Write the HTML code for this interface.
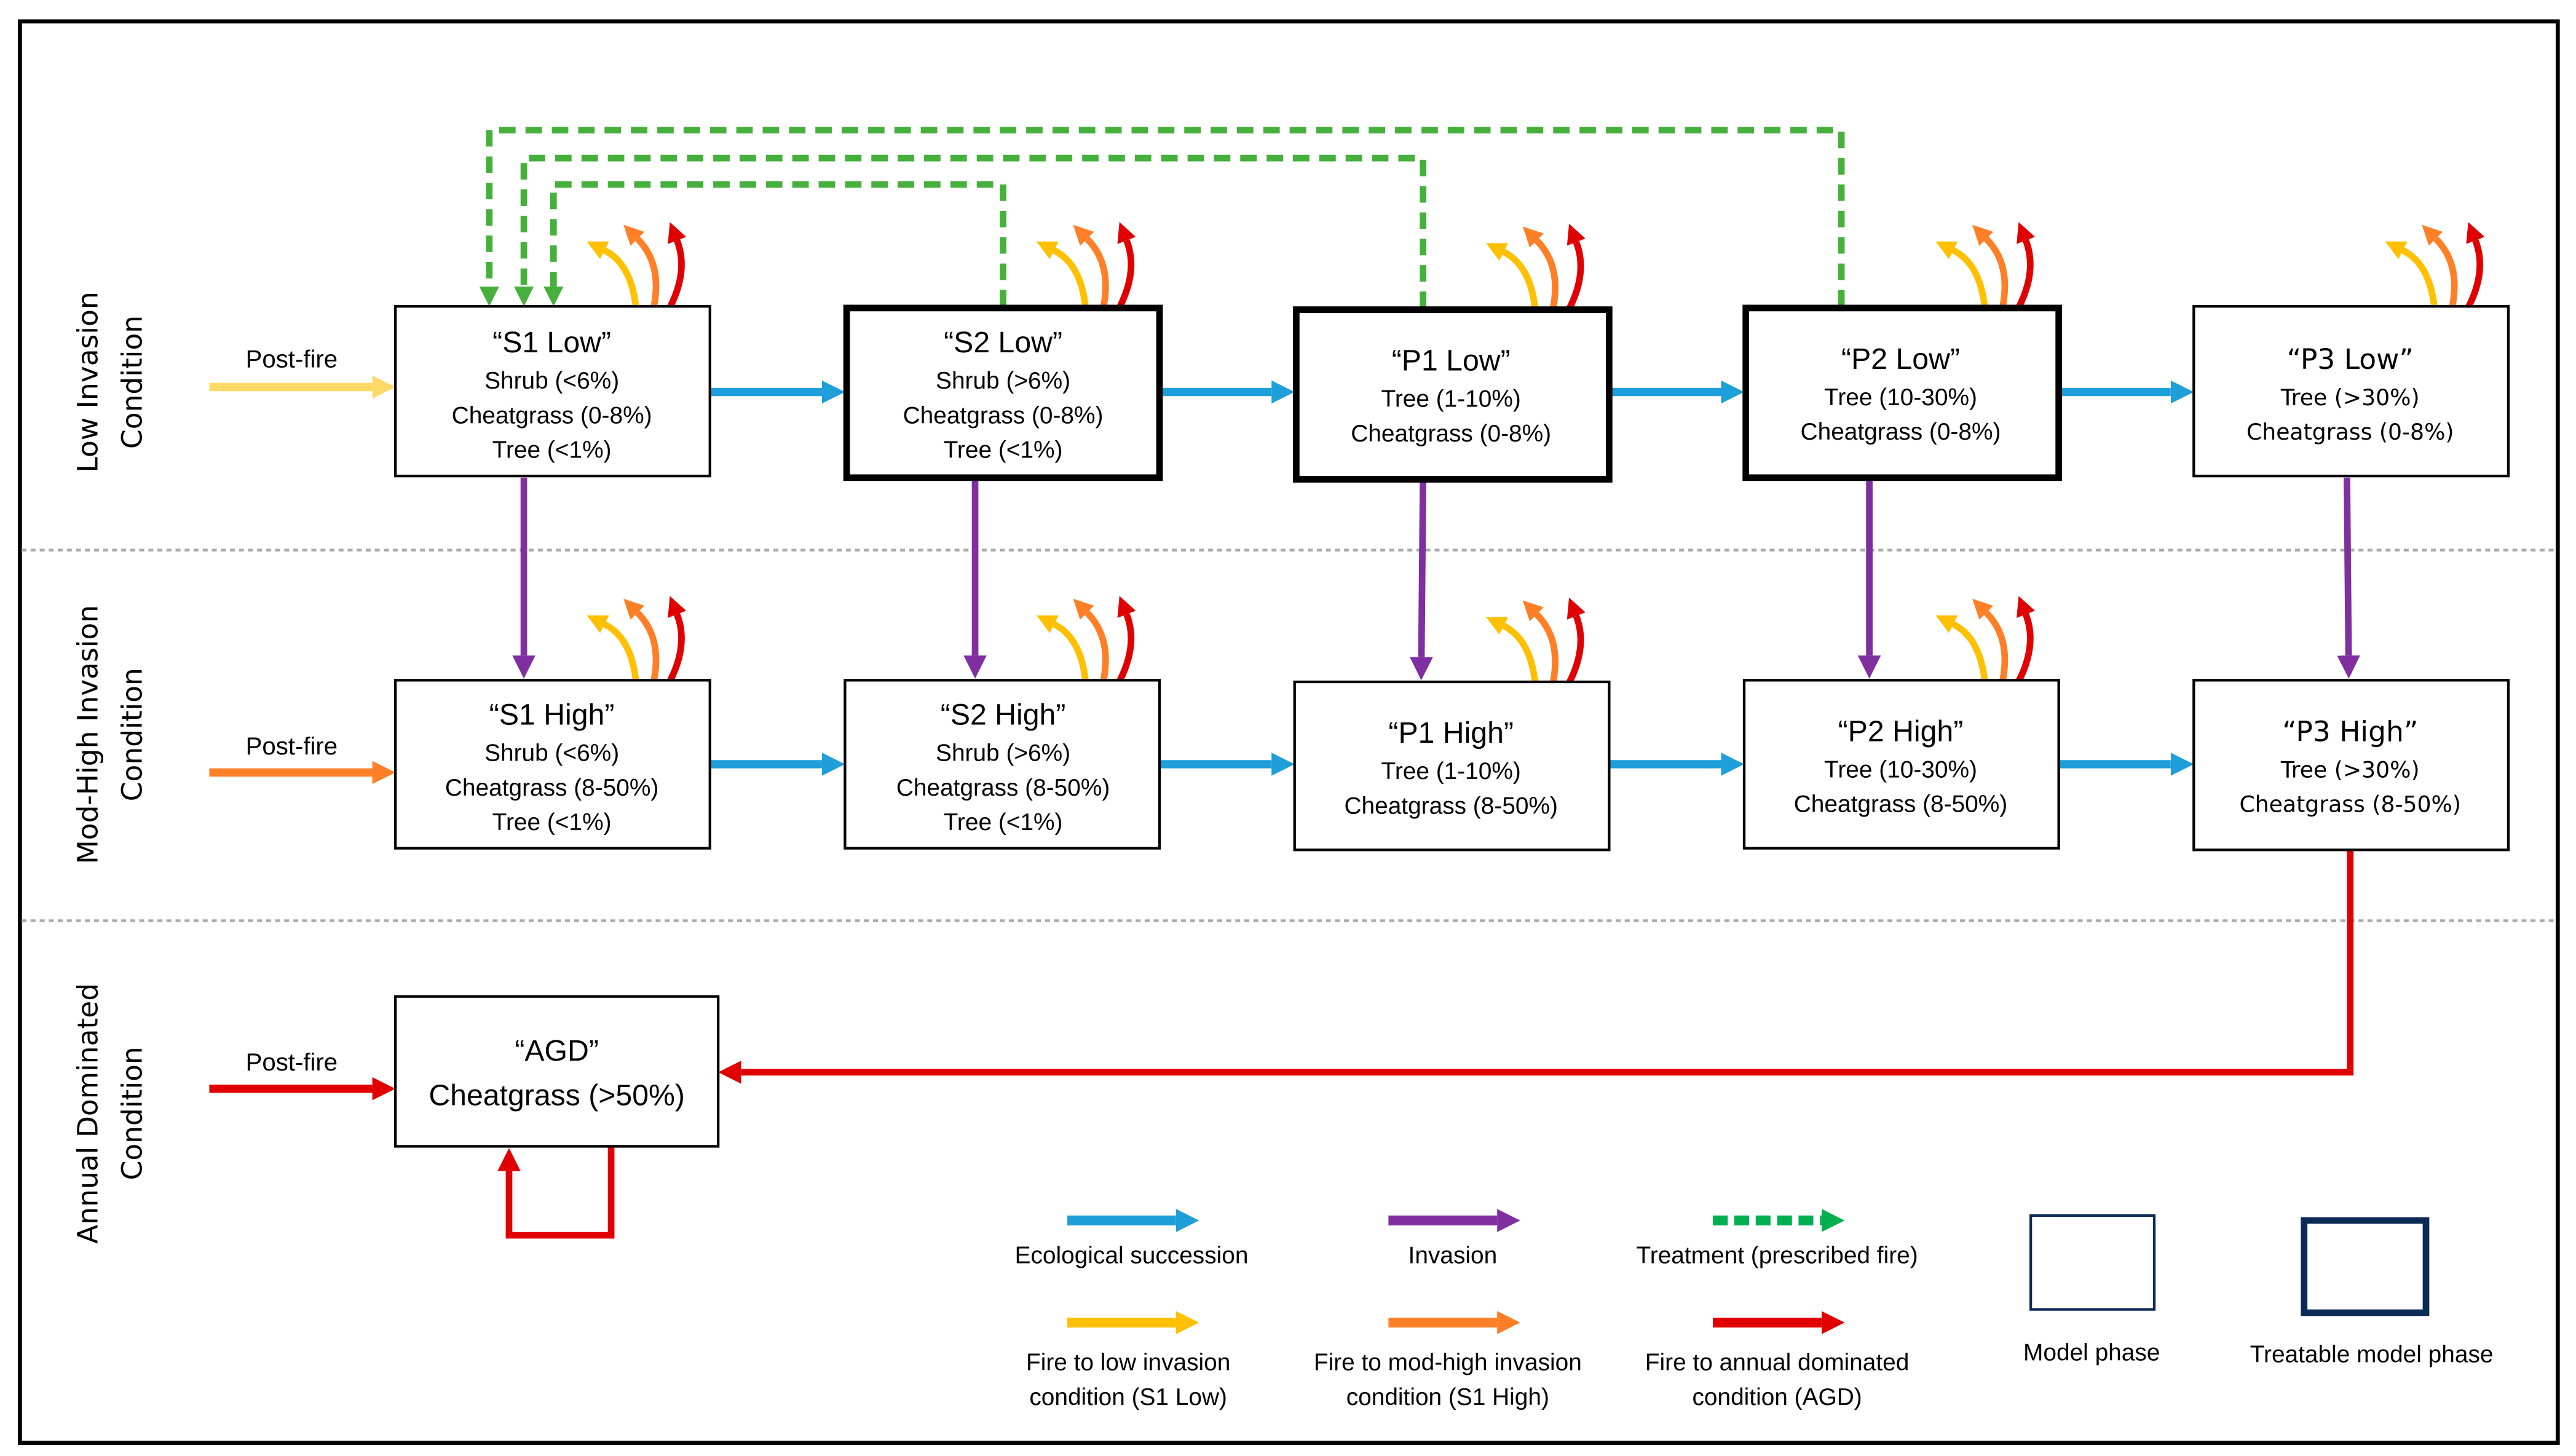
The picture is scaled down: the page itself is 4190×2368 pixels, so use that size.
<!DOCTYPE html>
<html><head><meta charset="utf-8"><style>
html,body{margin:0;padding:0;background:#fff;}
svg{display:block;}
.t{font-family:"Liberation Sans",sans-serif;fill:#000;text-anchor:middle;}
.ti{font-size:18px;}
.ln{font-size:14.5px;}
.rl{font-family:"DejaVu Sans","Liberation Sans",sans-serif;font-size:17px;text-anchor:middle;}
.wide{font-family:"DejaVu Sans","Liberation Sans",sans-serif;}
</style></head><body>
<svg width="4190" height="2368" viewBox="0 0 1564 884" xmlns="http://www.w3.org/2000/svg">
<defs>
<marker id="mb" markerUnits="userSpaceOnUse" markerWidth="14" markerHeight="14" viewBox="0 0 10 10" refX="0" refY="5" orient="auto"><path d="M0,0 L10,5 L0,10z" fill="#1F9FDA"/></marker>
<marker id="mp" markerUnits="userSpaceOnUse" markerWidth="14" markerHeight="14" viewBox="0 0 10 10" refX="0" refY="5" orient="auto"><path d="M0,0 L10,5 L0,10z" fill="#7F2FA0"/></marker>
<marker id="mg" markerUnits="userSpaceOnUse" markerWidth="12" markerHeight="12" viewBox="0 0 10 10" refX="0" refY="5" orient="auto"><path d="M0,0 L10,5 L0,10z" fill="#45B03C"/></marker>
<marker id="mg2" markerUnits="userSpaceOnUse" markerWidth="14" markerHeight="16" viewBox="0 0 10 10" refX="0" refY="5" orient="auto"><path d="M0,0 L10,5 L0,10z" fill="#00B050"/></marker>
<marker id="my" markerUnits="userSpaceOnUse" markerWidth="12" markerHeight="12" viewBox="0 0 10 10" refX="0" refY="5" orient="auto"><path d="M0,0 L10,5 L0,10z" fill="#FFC000"/></marker>
<marker id="mo" markerUnits="userSpaceOnUse" markerWidth="12" markerHeight="12" viewBox="0 0 10 10" refX="0" refY="5" orient="auto"><path d="M0,0 L10,5 L0,10z" fill="#FF7F27"/></marker>
<marker id="mr" markerUnits="userSpaceOnUse" markerWidth="12" markerHeight="12" viewBox="0 0 10 10" refX="0" refY="5" orient="auto"><path d="M0,0 L10,5 L0,10z" fill="#E00000"/></marker>
<marker id="my2" markerUnits="userSpaceOnUse" markerWidth="14" markerHeight="16" viewBox="0 0 10 10" refX="0" refY="5" orient="auto"><path d="M0,0 L10,5 L0,10z" fill="#FFC000"/></marker>
<marker id="mo2" markerUnits="userSpaceOnUse" markerWidth="14" markerHeight="16" viewBox="0 0 10 10" refX="0" refY="5" orient="auto"><path d="M0,0 L10,5 L0,10z" fill="#FF7F27"/></marker>
<marker id="mr2" markerUnits="userSpaceOnUse" markerWidth="14" markerHeight="16" viewBox="0 0 10 10" refX="0" refY="5" orient="auto"><path d="M0,0 L10,5 L0,10z" fill="#E00000"/></marker>
<marker id="mly" markerUnits="userSpaceOnUse" markerWidth="14" markerHeight="14" viewBox="0 0 10 10" refX="0" refY="5" orient="auto"><path d="M0,0 L10,5 L0,10z" fill="#FFD966"/></marker>
<marker id="mb2" markerUnits="userSpaceOnUse" markerWidth="14" markerHeight="16" viewBox="0 0 10 10" refX="0" refY="5" orient="auto"><path d="M0,0 L10,5 L0,10z" fill="#1F9FDA"/></marker>
<marker id="mp2" markerUnits="userSpaceOnUse" markerWidth="14" markerHeight="16" viewBox="0 0 10 10" refX="0" refY="5" orient="auto"><path d="M0,0 L10,5 L0,10z" fill="#7F2FA0"/></marker>
<g id="fire">
<path d="M-45,0 Q-48,-26 -64,-34" fill="none" stroke="#FFC000" stroke-width="4" marker-end="url(#my)"/>
<path d="M-34,0 Q-29,-26 -44,-41" fill="none" stroke="#FF7F27" stroke-width="4" marker-end="url(#mo)"/>
<path d="M-24,0 Q-13,-22 -20,-40" fill="none" stroke="#E00000" stroke-width="4" marker-end="url(#mr)"/>
</g>
</defs>
<rect x="0" y="0" width="1564" height="884" fill="#fff"/>
<rect x="12" y="13" width="1541" height="863" fill="none" stroke="#000" stroke-width="2.5"/>
<line x1="13" y1="334" x2="1552" y2="334" stroke="#aaa" stroke-width="1.6" stroke-dasharray="3,2.5"/>
<line x1="13" y1="559" x2="1552" y2="559" stroke="#aaa" stroke-width="1.6" stroke-dasharray="3,2.5"/>

<!-- row labels -->
<text class="rl" transform="translate(59,232) rotate(-90)">Low Invasion</text>
<text class="rl" transform="translate(86,232) rotate(-90)">Condition</text>
<text class="rl" transform="translate(59,446) rotate(-90)">Mod-High Invasion</text>
<text class="rl" transform="translate(86,446) rotate(-90)">Condition</text>
<text class="rl" transform="translate(59,676) rotate(-90)">Annual Dominated</text>
<text class="rl" transform="translate(86,676) rotate(-90)">Condition</text>

<!-- green treatment dashed -->
<g fill="none" stroke="#45B03C" stroke-width="4" stroke-dasharray="10,6">
<path d="M1118,186 V79 H297 V174" marker-end="url(#mg)"/>
<path d="M864,187 V96 H318 V174" marker-end="url(#mg)"/>
<path d="M609,186 V112 H336 V174" marker-end="url(#mg)"/>
</g>

<!-- fire arcs -->
<use href="#fire" x="431" y="186"/>
<use href="#fire" x="704" y="186"/>
<use href="#fire" x="977" y="187"/>
<use href="#fire" x="1250" y="186"/>
<use href="#fire" x="1523" y="186"/>
<use href="#fire" x="431" y="413"/>
<use href="#fire" x="704" y="413"/>
<use href="#fire" x="977" y="414"/>
<use href="#fire" x="1250" y="413"/>

<!-- post-fire -->
<line x1="127" y1="235" x2="226" y2="235" stroke="#FFD966" stroke-width="5" marker-end="url(#mly)"/>
<line x1="127" y1="469" x2="226" y2="469" stroke="#FF7F27" stroke-width="5" marker-end="url(#mo2)"/>
<line x1="127" y1="661" x2="226" y2="661" stroke="#E00000" stroke-width="5" marker-end="url(#mr2)"/>
<text class="t ln" x="177" y="223" style="font-size:15px">Post-fire</text>
<text class="t ln" x="177" y="458" style="font-size:15px">Post-fire</text>
<text class="t ln" x="177" y="650" style="font-size:15px">Post-fire</text>

<!-- blue succession -->
<g stroke="#1F9FDA" stroke-width="5">
<line x1="431" y1="238" x2="499" y2="238" marker-end="url(#mb)"/>
<line x1="704" y1="238" x2="772" y2="238" marker-end="url(#mb)"/>
<line x1="977" y1="238" x2="1045" y2="238" marker-end="url(#mb)"/>
<line x1="1250" y1="238" x2="1318" y2="238" marker-end="url(#mb)"/>
<line x1="431" y1="464" x2="499" y2="464" marker-end="url(#mb)"/>
<line x1="704" y1="464" x2="772" y2="464" marker-end="url(#mb)"/>
<line x1="977" y1="464" x2="1045" y2="464" marker-end="url(#mb)"/>
<line x1="1250" y1="464" x2="1318" y2="464" marker-end="url(#mb)"/>
</g>
<!-- purple invasion -->
<g stroke="#7F2FA0" stroke-width="4">
<line x1="318" y1="290" x2="318" y2="398" marker-end="url(#mp)"/>
<line x1="592" y1="290" x2="592" y2="398" marker-end="url(#mp)"/>
<line x1="864" y1="291" x2="863" y2="399" marker-end="url(#mp)"/>
<line x1="1135" y1="290" x2="1135" y2="398" marker-end="url(#mp)"/>
<line x1="1425" y1="290" x2="1426" y2="398" marker-end="url(#mp)"/>
</g>
<!-- red to AGD -->
<path d="M1427,516 V651 H450" fill="none" stroke="#E00000" stroke-width="4" marker-end="url(#mr2)"/>
<path d="M371,696 V750 H309 V711" fill="none" stroke="#E00000" stroke-width="4" marker-end="url(#mr2)"/>

<!-- boxes -->
<g fill="#fff" stroke="#000">
<rect x="240" y="186" width="191" height="103" stroke-width="1.6"/>
<rect x="514" y="187" width="190" height="103" stroke-width="4"/>
<rect x="787" y="188" width="190" height="103" stroke-width="4"/>
<rect x="1060" y="187" width="190" height="103" stroke-width="4"/>
<rect x="1332" y="186" width="191" height="103" stroke-width="1.6"/>
<rect x="240" y="413" width="191" height="102" stroke-width="1.6"/>
<rect x="513" y="413" width="191" height="102" stroke-width="1.6"/>
<rect x="786" y="414" width="191" height="102" stroke-width="1.6"/>
<rect x="1059" y="413" width="191" height="102" stroke-width="1.6"/>
<rect x="1332" y="413" width="191" height="103" stroke-width="1.6"/>
<rect x="240" y="605" width="196" height="91" stroke-width="1.6"/>
</g>

<!-- box text -->
<text class="t ti" x="335" y="214">“S1 Low”</text>
<text class="t ln" x="335" y="236">Shrub (&lt;6%)</text>
<text class="t ln" x="335" y="257">Cheatgrass (0-8%)</text>
<text class="t ln" x="335" y="278">Tree (&lt;1%)</text>

<text class="t ti" x="609" y="214">“S2 Low”</text>
<text class="t ln" x="609" y="236">Shrub (&gt;6%)</text>
<text class="t ln" x="609" y="257">Cheatgrass (0-8%)</text>
<text class="t ln" x="609" y="278">Tree (&lt;1%)</text>

<text class="t ti" x="881" y="225">“P1 Low”</text>
<text class="t ln" x="881" y="247">Tree (1-10%)</text>
<text class="t ln" x="881" y="268">Cheatgrass (0-8%)</text>

<text class="t ti" x="1154" y="224">“P2 Low”</text>
<text class="t ln" x="1154" y="246">Tree (10-30%)</text>
<text class="t ln" x="1154" y="267">Cheatgrass (0-8%)</text>

<text class="t ti wide" x="1427" y="224" style="font-size:17px">“P3 Low”</text>
<text class="t ln wide" x="1427" y="246" style="font-size:13.5px">Tree (&gt;30%)</text>
<text class="t ln wide" x="1427" y="267" style="font-size:13.5px">Cheatgrass (0-8%)</text>

<text class="t ti" x="335" y="440">“S1 High”</text>
<text class="t ln" x="335" y="462">Shrub (&lt;6%)</text>
<text class="t ln" x="335" y="483">Cheatgrass (8-50%)</text>
<text class="t ln" x="335" y="504">Tree (&lt;1%)</text>

<text class="t ti" x="609" y="440">“S2 High”</text>
<text class="t ln" x="609" y="462">Shrub (&gt;6%)</text>
<text class="t ln" x="609" y="483">Cheatgrass (8-50%)</text>
<text class="t ln" x="609" y="504">Tree (&lt;1%)</text>

<text class="t ti" x="881" y="451">“P1 High”</text>
<text class="t ln" x="881" y="473">Tree (1-10%)</text>
<text class="t ln" x="881" y="494">Cheatgrass (8-50%)</text>

<text class="t ti" x="1154" y="450">“P2 High”</text>
<text class="t ln" x="1154" y="472">Tree (10-30%)</text>
<text class="t ln" x="1154" y="493">Cheatgrass (8-50%)</text>

<text class="t ti wide" x="1427" y="450" style="font-size:17px">“P3 High”</text>
<text class="t ln wide" x="1427" y="472" style="font-size:13.5px">Tree (&gt;30%)</text>
<text class="t ln wide" x="1427" y="493" style="font-size:13.5px">Cheatgrass (8-50%)</text>

<text class="t" x="338" y="644" style="font-size:18px">“AGD”</text>
<text class="t" x="338" y="671" style="font-size:18px">Cheatgrass (&gt;50%)</text>

<!-- legend -->
<line x1="648" y1="741" x2="714" y2="741" stroke="#1F9FDA" stroke-width="6" marker-end="url(#mb2)"/>
<line x1="843" y1="741" x2="909" y2="741" stroke="#7F2FA0" stroke-width="6" marker-end="url(#mp2)"/>
<line x1="1040" y1="741" x2="1106" y2="741" stroke="#00B050" stroke-width="6" stroke-dasharray="9,4" marker-end="url(#mg2)"/>
<line x1="648" y1="803" x2="714" y2="803" stroke="#FFC000" stroke-width="6" marker-end="url(#my2)"/>
<line x1="843" y1="803" x2="909" y2="803" stroke="#FF7F27" stroke-width="6" marker-end="url(#mo2)"/>
<line x1="1040" y1="803" x2="1106" y2="803" stroke="#E00000" stroke-width="6" marker-end="url(#mr2)"/>
<text class="t ln" x="687" y="767">Ecological succession</text>
<text class="t ln" x="882" y="767">Invasion</text>
<text class="t ln" x="1079" y="767">Treatment (prescribed fire)</text>
<text class="t ln" x="685" y="832">Fire to low invasion</text>
<text class="t ln" x="685" y="853">condition (S1 Low)</text>
<text class="t ln" x="879" y="832">Fire to mod-high invasion</text>
<text class="t ln" x="879" y="853">condition (S1 High)</text>
<text class="t ln" x="1079" y="832">Fire to annual dominated</text>
<text class="t ln" x="1079" y="853">condition (AGD)</text>
<rect x="1233" y="738" width="75" height="57" fill="#fff" stroke="#0B2A55" stroke-width="1.6"/>
<rect x="1399" y="741" width="74" height="56" fill="#fff" stroke="#0B2A55" stroke-width="4"/>
<text class="t ln" x="1270" y="826">Model phase</text>
<text class="t ln" x="1440" y="827">Treatable model phase</text>
</svg>
</body></html>
